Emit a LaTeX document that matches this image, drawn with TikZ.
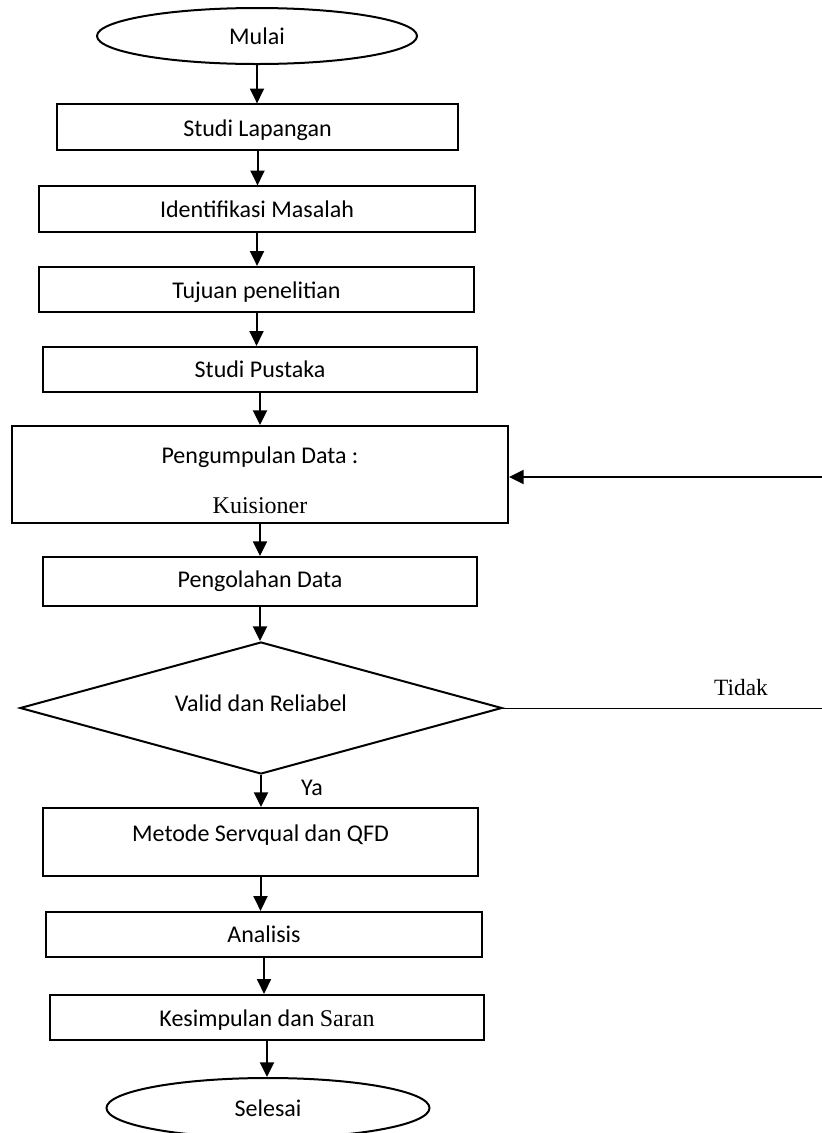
\documentclass[tikz,border=0pt]{standalone}
\usepackage{fontspec}
\setmainfont{Carlito}
\newfontfamily\timesfont{Liberation Serif}
\usetikzlibrary{shapes.geometric,arrows.meta}
\tikzset{
    flow-box/.style = {draw, fill=white, line width=1.5pt, rectangle, inner sep=0pt, minimum width=326pt, minimum height=34pt},
    flow-end/.style = {draw, fill=white, line width=1.5pt, ellipse, inner sep=0pt},
    flow-test/.style = {draw, fill=white, line width=1.5pt, diamond, inner sep=0pt},
    flow-arrow/.style = {line width=1.5pt, -{Triangle[length=11pt,width=10.5pt]}},
}

\begin{document}
\begin{tikzpicture}[x=0.75pt, y=-0.75pt, font=\fontsize{18}{21}\selectfont]
\fill[white] (0,0) rectangle (822,1133);
\useasboundingbox (0,0) rectangle (822,1133);

\node[flow-end, minimum width=240pt, minimum height=42pt] (mulai) at (257,36) {Mulai};
\node[flow-box, minimum width=300.75pt, text height=17pt] (lapangan) at (257.5,127) {Studi Lapangan};
\node[flow-box, minimum width=327pt] (masalah) at (257,209) {Identifikasi Masalah};
\node[flow-box, minimum width=326.25pt, text height=17pt] (tujuan) at (256.5,289.5) {Tujuan penelitian};
\node[flow-box, minimum width=325.5pt] (pustaka) at (260,369.5) {Studi Pustaka};
\node[flow-box, minimum width=372pt, minimum height=72.75pt, align=center] (kumpul) at (260,474.5)
    {\rule{0pt}{21pt}Pengumpulan Data :\\[16pt]{\timesfont Kuisioner}};
\node[flow-box, minimum width=325.5pt, minimum height=36.75pt] (olah) at (260,581.5) {Pengolahan Data};
\node[flow-test, minimum width=361.5pt, minimum height=99pt, shape aspect=3.6] (valid) at (261,708)
    {\raisebox{8pt}{Valid dan Reliabel}};
\node[flow-box, minimum width=326.25pt, minimum height=51pt, text depth=14pt] (metode) at (260.5,842) {Metode Servqual dan QFD};
\node[flow-box, minimum width=327pt] (analisis) at (264,934.5) {Analisis};
\node[flow-box, minimum width=325.5pt, text height=17pt] (simpulan) at (267,1017.5) {Kesimpulan dan {\timesfont Saran}};
\node[flow-end, minimum width=242.25pt, minimum height=45pt] (selesai) at (268,1108) {Selesai};

% labels of the test
\node (ya) at (312,788) {Ya};
\node[font=\timesfont\fontsize{17.5}{20}\selectfont] (tidak) at (741,688) {Tidak};
\coordinate (tidak-end) at (822,708);
\coordinate (balik) at (822,477);

% main flow
\draw[flow-arrow] (mulai.south) -- (mulai.south |- lapangan.north);
\draw[flow-arrow] (lapangan.south) -- (lapangan.south |- masalah.north);
\draw[flow-arrow] (masalah.south) -- (masalah.south |- tujuan.north);
\draw[flow-arrow] (tujuan.south) -- (tujuan.south |- pustaka.north);
\draw[flow-arrow] (pustaka.south) -- (pustaka.south |- kumpul.north);
\draw[flow-arrow] (kumpul.south) -- (kumpul.south |- olah.north);
\draw[flow-arrow] (olah.south) -- (olah.south |- valid.north);
\draw[flow-arrow] (valid.south) -- (valid.south |- metode.north);
\draw[flow-arrow] (metode.south) -- (metode.south |- analisis.north);
\draw[flow-arrow] (analisis.south) -- (analisis.south |- simpulan.north);
\draw[flow-arrow] (simpulan.south) -- (simpulan.south |- selesai.north);

% back loop
\draw[line width=0.75pt] (valid.east) -- (tidak-end);
\draw[flow-arrow] (balik) -- (balik -| kumpul.east);
\end{tikzpicture}
\end{document}
